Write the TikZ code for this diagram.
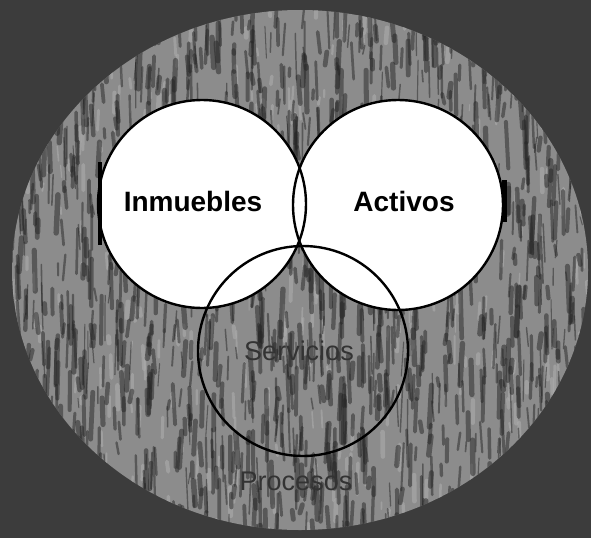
\documentclass[tikz,border=0pt]{standalone}
\usepackage{fontspec}
\setmainfont{Liberation Sans}
\definecolor{bgdark}{HTML}{3C3C3C}
\definecolor{ellgray}{HTML}{8C8C8C}
\definecolor{streakdark}{HTML}{262626}
\definecolor{streaklight}{HTML}{ACACAC}
\definecolor{faint}{HTML}{333333}
\begin{document}
\begin{tikzpicture}[x=1pt,y=-1pt,
  venn/.style={circle, draw=black, line width=2.4pt, minimum size=208pt, inner sep=0pt},
  bigtxt/.style={font=\fontsize{28}{30}\selectfont\bfseries, text=black, inner sep=0pt},
  dimtxt/.style={font=\fontsize{27}{29}\selectfont, text=faint, inner sep=0pt},
  streak/.style={draw=streakdark, opacity=0.5, line cap=round},
  lstreak/.style={draw=streaklight, opacity=0.6, line cap=round}]
\useasboundingbox (0,0) rectangle (591,538);
\fill[bgdark] (0,0) rectangle (591,538);
\begin{scope}
  \clip (300,270) ellipse [x radius=288, y radius=260];
  \fill[ellgray] (0,0) rectangle (591,538);
  \pgfmathsetseed{11}
  \foreach \i in {1,...,400}{
    \pgfmathsetmacro{\xx}{rnd*591}
    \pgfmathsetmacro{\yy}{rnd*538}
    \pgfmathsetmacro{\ll}{6+rnd*22}
    \pgfmathsetmacro{\ww}{1+rnd*4}
    \pgfmathsetmacro{\dx}{(rnd-0.5)*3}
    \draw[lstreak, line width=\ww pt] (\xx,\yy) -- ++(\dx,\ll);
  }
  \foreach \i in {1,...,1400}{
    \pgfmathsetmacro{\xx}{rnd*591}
    \pgfmathsetmacro{\yy}{rnd*538}
    \pgfmathsetmacro{\ll}{8+rnd*40}
    \pgfmathsetmacro{\ww}{1+rnd*4.5}
    \pgfmathsetmacro{\dx}{(rnd-0.5)*5}
    \draw[streak, line width=\ww pt] (\xx,\yy) -- ++(\dx,\ll);
  }
\end{scope}
% white fills
\fill[white] (202,204) circle [radius=104];
\fill[white] (398,205) circle [radius=105];
% outlines
\node[venn] (inm) at (202,204) {};
\node[venn, minimum size=210pt] (act) at (398,205) {};
\node[venn, minimum size=210pt] (serv) at (303,351) {};
% small dark marks at circle edges
\fill[black] (98,162) rectangle (102,245);
\fill[black] (502,180) rectangle (507,222);
% labels
\node[bigtxt] (inmt) at (193,201) {Inmuebles};
\node[bigtxt] (actt) at (404,201) {Activos};
\node[dimtxt] (servt) at (299,351) {Servicios};
\node[dimtxt] (proct) at (296,481) {Procesos};
\end{tikzpicture}
\end{document}
